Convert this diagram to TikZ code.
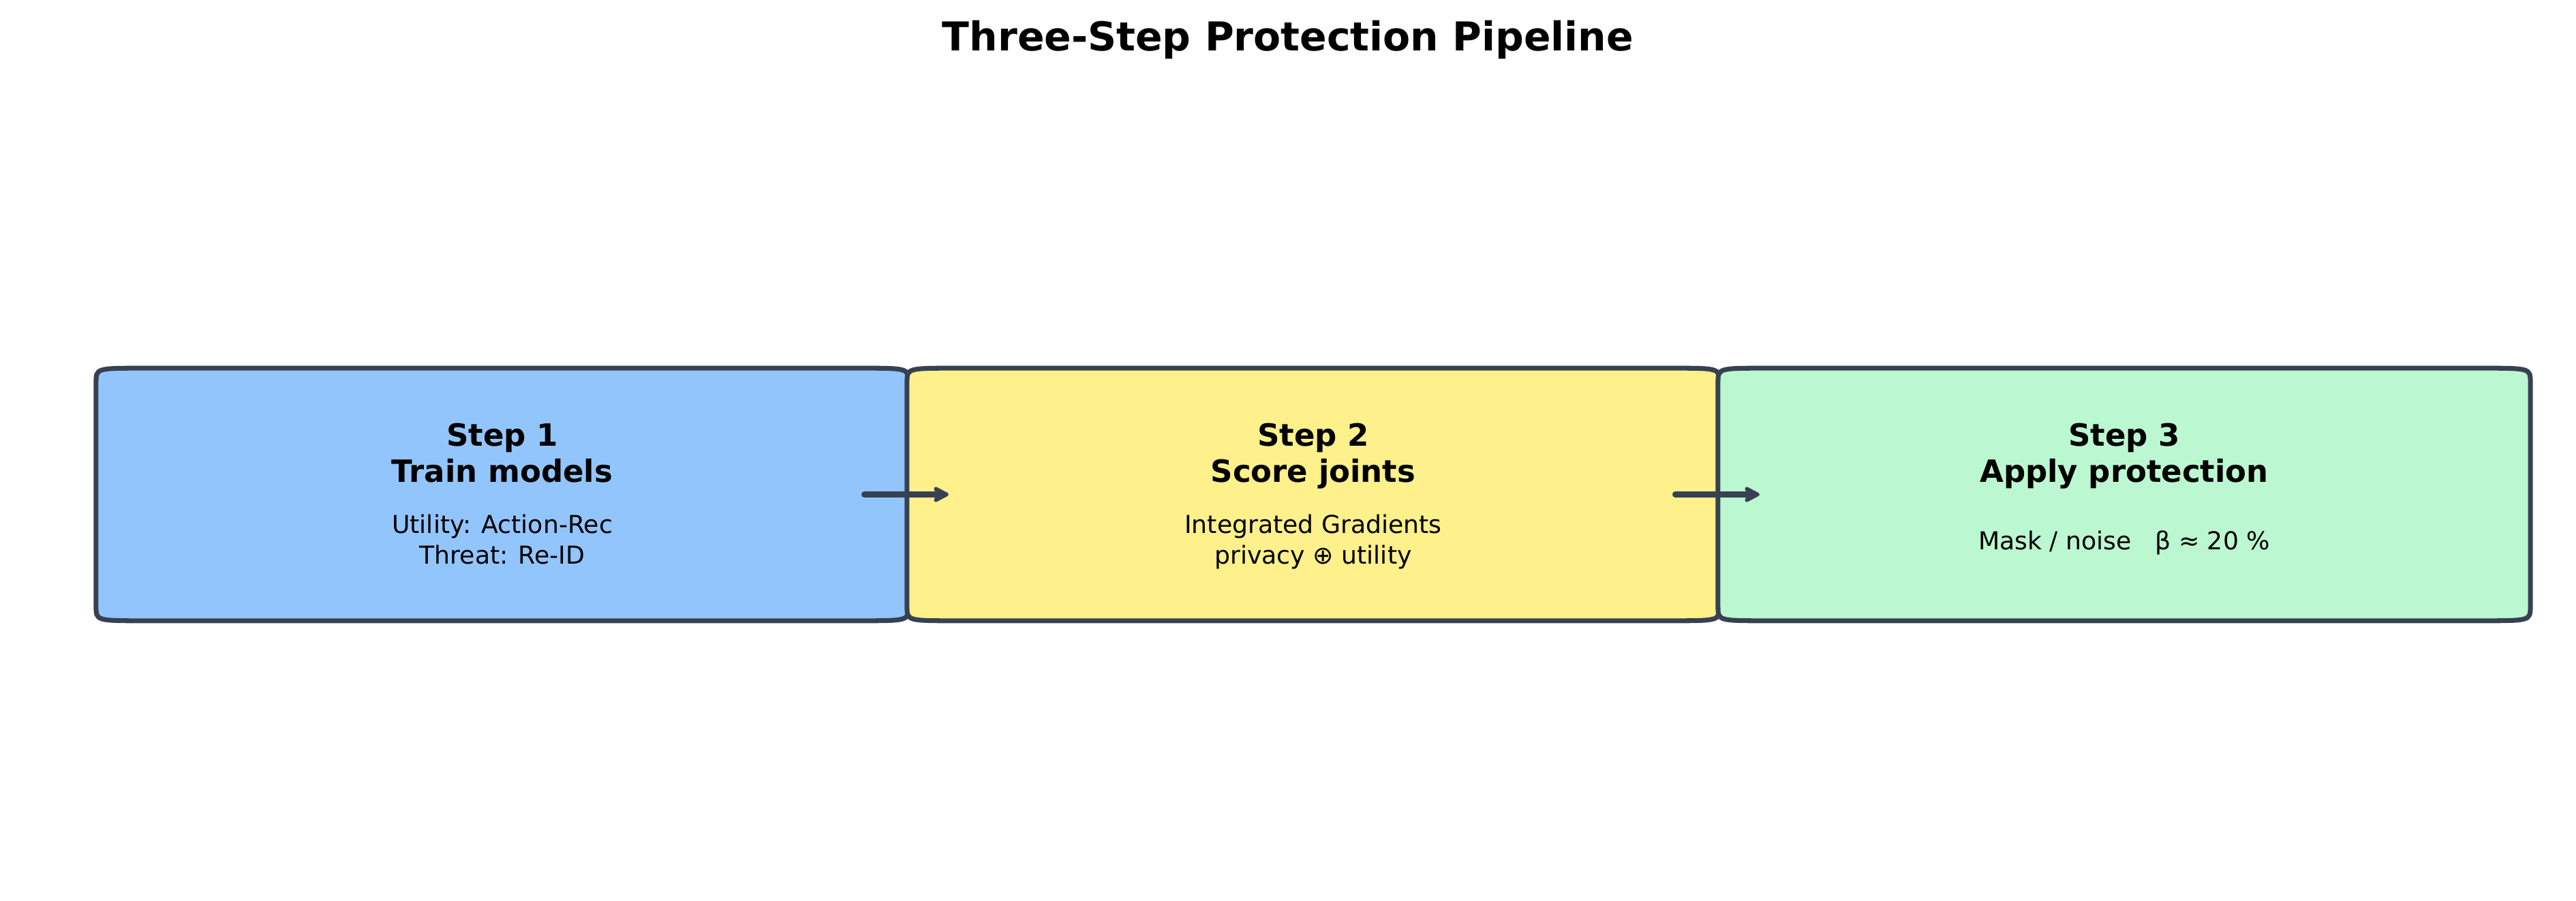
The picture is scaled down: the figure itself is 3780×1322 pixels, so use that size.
\documentclass[tikz,border=0pt]{standalone}
\usepackage{fontspec}
\setmainfont{DejaVu Sans}
\usetikzlibrary{arrows.meta,calc}
\definecolor{edgec}{HTML}{374151}
\definecolor{fillA}{HTML}{93C5FD}
\definecolor{fillB}{HTML}{FEF08A}
\definecolor{fillC}{HTML}{BBF7D0}
\newcommand\roundbox[2]{%
  \filldraw[boxline, fill=#2]
    ($(#1.north west)+(72,0)$) -- ($(#1.north east)+(-72,0)$)
    .. controls (#1.north east) .. ($(#1.north east)+(0,21)$)
    -- ($(#1.south east)+(0,-21)$)
    .. controls (#1.south east) .. ($(#1.south east)+(-72,0)$)
    -- ($(#1.south west)+(72,0)$)
    .. controls (#1.south west) .. ($(#1.south west)+(0,-21)$)
    -- ($(#1.north west)+(0,21)$)
    .. controls (#1.north west) .. ($(#1.north west)+(72,0)$) -- cycle;}
\begin{document}
\begin{tikzpicture}[x=0.01cm,y=-0.01cm,
  boxline/.style={draw=edgec, line width=2pt, line join=round},
  boxarea/.style={rectangle, inner sep=0pt, minimum width=11.9cm, minimum height=3.69cm},
  headtxt/.style={anchor=base, inner sep=0pt, font=\fontsize{12.8}{15}\selectfont\bfseries},
  subtxt/.style={anchor=base, inner sep=0pt, font=\fontsize{10.3}{12.5}\selectfont},
  titletxt/.style={anchor=base, inner sep=0pt, font=\fontsize{16.6}{20}\selectfont\bfseries},
  flow/.style={draw=edgec, line width=2.3pt, line cap=round, -{Stealth[length=0.27cm, width=0.28cm, inset=0.06cm, round]}}]
\useasboundingbox (0,0) rectangle (3780,1322);
\fill[white] (0,0) rectangle (3780,1322);
\node[titletxt] (title) at (1890,75) {Three-Step Protection Pipeline};
\node[boxarea] (b1) at (737,725.5) {};
\node[boxarea] (b2) at (1927,725.5) {};
\node[boxarea] (b3) at (3117,725.5) {};
\roundbox{b1}{fillA}
\roundbox{b2}{fillB}
\roundbox{b3}{fillC}
\node[headtxt] (h1a) at (737,655) {Step 1};
\node[headtxt] (h1b) at (737,708) {Train models};
\node[subtxt] (s1a) at (737,783) {Utility: Action-Rec};
\node[subtxt] (s1b) at (737,828) {Threat: Re-ID};
\node[headtxt] (h2a) at (1927,655) {Step 2};
\node[headtxt] (h2b) at (1927,708) {Score joints};
\node[subtxt] (s2a) at (1927,783) {Integrated Gradients};
\node[subtxt] (s2b) at (1927,828) {privacy ⊕ utility};
\node[headtxt] (h3a) at (3117,655) {Step 3};
\node[headtxt] (h3b) at (3117,708) {Apply protection};
\node[subtxt] (s3a) at (3117,807) {Mask / noise\ \ \ β ≈ 20 \%};
\coordinate (a1s) at ($(b1.east)+(-65,0)$);
\coordinate (a1e) at ($(b2.west)+(61,0)$);
\coordinate (a2s) at ($(b2.east)+(-65,0)$);
\coordinate (a2e) at ($(b3.west)+(61,0)$);
\draw[flow] (a1s) -- (a1e);
\draw[flow] (a2s) -- (a2e);
\end{tikzpicture}
\end{document}
